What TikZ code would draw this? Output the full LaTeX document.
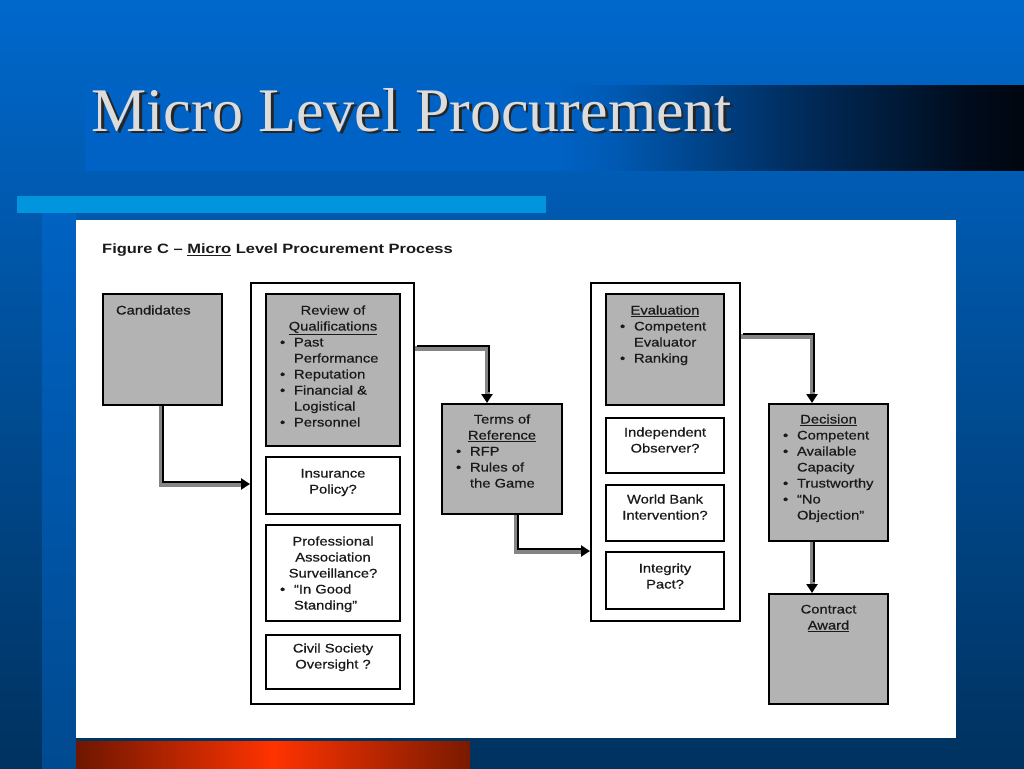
\documentclass[tikz,border=0pt]{standalone}
\usepackage{fontspec}
\setmainfont{Liberation Sans}
\newfontfamily\titlefont{Liberation Serif}
\newfontfamily\figfont[FakeStretch=1.18,FakeBold=0.6]{Liberation Sans}
\newfontfamily\capfont[FakeStretch=1.22]{Liberation Sans}
\usetikzlibrary{arrows.meta}
\definecolor{bgtop}{HTML}{0068CC}
\definecolor{bgbot}{HTML}{00325F}
\definecolor{stripT}{HTML}{0062C2}
\definecolor{stripB}{HTML}{004A90}
\definecolor{bandA}{HTML}{0062C4}
\definecolor{bandB}{HTML}{005AB4}
\definecolor{bandC}{HTML}{002C5C}
\definecolor{bandD}{HTML}{000C1C}
\definecolor{bandE}{HTML}{00060F}
\definecolor{ltblue}{HTML}{0095DD}
\definecolor{redA}{HTML}{6E1600}
\definecolor{redB}{HTML}{FF3300}
\definecolor{redC}{HTML}{7A1A00}
\definecolor{boxgray}{HTML}{B3B3B3}
\definecolor{conngray}{HTML}{858585}
\definecolor{textc}{HTML}{1A1A1A}
\definecolor{titletext}{HTML}{DCDCDC}
\pgfdeclarehorizontalshading{band}{100bp}{color(0bp)=(bandA); color(25bp)=(bandA); color(50bp)=(bandA); color(53bp)=(bandB); color(63bp)=(bandC); color(72bp)=(bandD); color(75bp)=(bandE); color(100bp)=(bandE)}
% box text helpers
\newcommand\bx[4]{\parbox[c][#2pt][t]{#1pt}{\parindent0pt\hbox to\linewidth{}\vspace*{#3pt}#4}}
\newcommand\cl[1]{\hbox to\linewidth{\hfil#1\hfil}}
\newcommand\bl[1]{\hbox to\linewidth{\kern14pt\makebox[14pt][l]{•}#1\hfil}}
\newcommand\il[1]{\hbox to\linewidth{\kern28pt #1\hfil}}
\newcommand\lft[2]{\hbox to\linewidth{\kern#1pt #2\hfil}}
\tikzset{
  boxbase/.style={draw=black, line width=2pt, inner sep=0pt, outer sep=1pt, anchor=north west, text=textc, font=\figfont\fontsize{12.5}{16}\selectfont},
  gbox/.style={boxbase, fill=boxgray},
  wbox/.style={boxbase, fill=white},
  cont/.style={draw=black, line width=2pt, fill=white, inner sep=0pt, outer sep=1pt, anchor=north west},
  conng/.style={draw=conngray, line width=5pt, -{Triangle[width=11pt,length=9pt,color=black]}},
  connk/.style={draw=black, line width=1.4pt, shorten >=9pt, transform canvas={xshift=2pt,yshift=2pt}},
}
\begin{document}
\begin{tikzpicture}[x=1pt,y=-1pt]
\useasboundingbox (0,0) rectangle (1024,768);
% background
\shade[top color=bgtop, bottom color=bgbot] (0,0) rectangle (1024,768);
\shade[top color=stripT, bottom color=stripB] (42,213) rectangle (76,768);
\shade[shading=band] (85,85) rectangle (1024,170);
\fill[ltblue] (17,196) rectangle (546,213);
\fill[white] (76,220) rectangle (956,738);
\shade[left color=redA, right color=redC, middle color=redB] (76,741) rectangle (470,768);
% title
\node[anchor=base west, text=black!85, font=\titlefont\fontsize{62}{70}\selectfont] (titleshadow) at (90.5,133.5) {Micro Level Procurement};
\node[anchor=base west, text=titletext, font=\titlefont\fontsize{62}{70}\selectfont] (title) at (88,131) {Micro Level Procurement};
% caption
\node[anchor=west, inner sep=0pt, text=textc, font=\capfont\bfseries\fontsize{13.5}{16}\selectfont] (cap) at (102,250) {Figure C – \underline{Micro} Level Procurement Process};
% containers
\node[cont, minimum width=163pt, minimum height=421pt] (outerL) at (250,282) {};
\node[cont, minimum width=149pt, minimum height=338pt] (outerM) at (590,282) {};
% boxes
\node[gbox] (cand) at (102,293) {\bx{119}{111}{4.5}{\lft{13}{Candidates}}};
\node[gbox] (rev) at (265,293) {\bx{134}{152}{4.5}{\cl{Review of}\cl{\underline{Qualifications}}\bl{Past}\il{Performance}\bl{Reputation}\bl{Financial \&}\il{Logistical}\bl{Personnel}}};
\node[wbox] (ins) at (265,456) {\bx{134}{57}{4.5}{\cl{Insurance}\cl{Policy?}}};
\node[wbox] (prof) at (265,524) {\bx{134}{96}{4.5}{\cl{Professional}\cl{Association}\cl{Surveillance?}\bl{“In Good}\il{Standing”}}};
\node[wbox] (civ) at (265,634) {\bx{134}{54}{1.5}{\cl{Civil Society}\cl{Oversight ?}}};
\node[gbox] (tor) at (441,403) {\bx{120}{110}{3.5}{\cl{Terms of}\cl{\underline{Reference}}\bl{RFP}\bl{Rules of}\il{the Game}}};
\node[gbox] (eva) at (605,293) {\bx{118}{111}{4.5}{\cl{\underline{Evaluation}}\bl{Competent}\il{Evaluator}\bl{Ranking}}};
\node[wbox] (ind) at (605,417) {\bx{118}{55}{2.5}{\cl{Independent}\cl{Observer?}}};
\node[wbox] (wb) at (605,484) {\bx{118}{56}{2.5}{\cl{World Bank}\cl{Intervention?}}};
\node[wbox] (ip) at (605,551) {\bx{118}{57}{4.5}{\cl{Integrity}\cl{Pact?}}};
\node[gbox] (dec) at (768,403) {\bx{119}{137}{3.5}{\cl{\underline{Decision}}\bl{Competent}\bl{Available}\il{Capacity}\bl{Trustworthy}\bl{“No}\il{Objection”}}};
\node[gbox] (con) at (768,593) {\bx{119}{110}{3.5}{\cl{Contract}\cl{\underline{Award}}}};
% bend points
\coordinate (k1) at (161,484);
\coordinate (k2) at (487,348);
\coordinate (k3) at (516,551);
\coordinate (k4) at (812,336);
\coordinate (k5) at (812,560);
% connectors
\draw[conng] (cand.south -| k1) |- (outerL.west |- k1);
\draw[connk] (cand.south -| k1) |- (outerL.west |- k1);
\draw[conng] (outerL.east |- k2) -- (k2) -- (k2 |- tor.north);
\draw[connk] (outerL.east |- k2) -- (k2) -- (k2 |- tor.north);
\draw[conng] (k3 |- tor.south) -- (k3) -- (k3 -| outerM.west);
\draw[connk] (k3 |- tor.south) -- (k3) -- (k3 -| outerM.west);
\draw[conng] (outerM.east |- k4) -- (k4) -- (k4 |- dec.north);
\draw[connk] (outerM.east |- k4) -- (k4) -- (k4 |- dec.north);
\draw[conng] (k5 |- dec.south) -- (k5 |- con.north);
\draw[connk] (k5 |- dec.south) -- (k5 |- con.north);
\end{tikzpicture}
\end{document}
